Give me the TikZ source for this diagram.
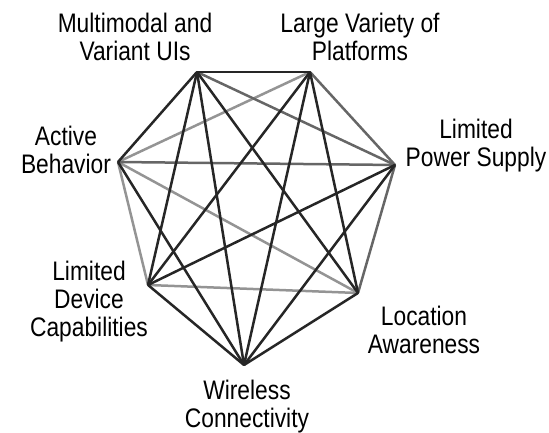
\documentclass[tikz,border=0pt]{standalone}
\usepackage{fontspec}
\setmainfont{Liberation Sans}[FakeStretch=0.85]
\usetikzlibrary{positioning}

\begin{document}
\begin{tikzpicture}[
        x=0.5pt, y=0.5pt,
        vtx/.style={inner sep=0pt, minimum size=0pt},
        lbl/.style={align=center, font=\fontsize{13.4}{14}\selectfont, inner sep=0pt},
        edge/.style={line width=1.25pt, line cap=round},
        dark/.style={edge, draw=black!85},
        mid/.style={edge, draw=black!60},
        light/.style={edge, draw=black!42}
    ]
    \useasboundingbox (0,0) rectangle (549,432);
    % corners of the heptagon
    \node[vtx] (M)  at (197,360) {};
    \node[vtx] (L)  at (310,360) {};
    \node[vtx] (P)  at (395,267) {};
    \node[vtx] (LA) at (358,139) {};
    \node[vtx] (W)  at (244,67)  {};
    \node[vtx] (D)  at (148,147) {};
    \node[vtx] (A)  at (118,270) {};
    % labels
    \node[lbl] (Mlbl)  at (135,395) {Multimodal and\\Variant UIs};
    \node[lbl] (Llbl)  at (360,395) {Large Variety of\\Platforms};
    \node[lbl] (Albl)  at (66,282)  {Active\\Behavior};
    \node[lbl] (Plbl)  at (476,286) {Limited\\Power Supply};
    \node[lbl] (Dlbl)  at (89,130)  {Limited\\Device\\Capabilities};
    \node[lbl] (LAlbl) at (424,102) {Location\\Awareness};
    \node[lbl] (Wlbl)  at (247,25)  {Wireless\\Connectivity};
    % edges, lightest first
    \foreach \a/\b in {L/A, A/LA, A/D, D/LA}
        \draw[light] (\a) -- (\b);
    \foreach \a/\b in {M/P, L/P, A/P, P/LA}
        \draw[mid] (\a) -- (\b);
    \foreach \a/\b in {M/L, M/A, M/D, M/W, M/LA, L/D, L/W, L/LA,
                       A/W, D/P, D/W, P/W, LA/W}
        \draw[dark] (\a) -- (\b);
\end{tikzpicture}
\end{document}
